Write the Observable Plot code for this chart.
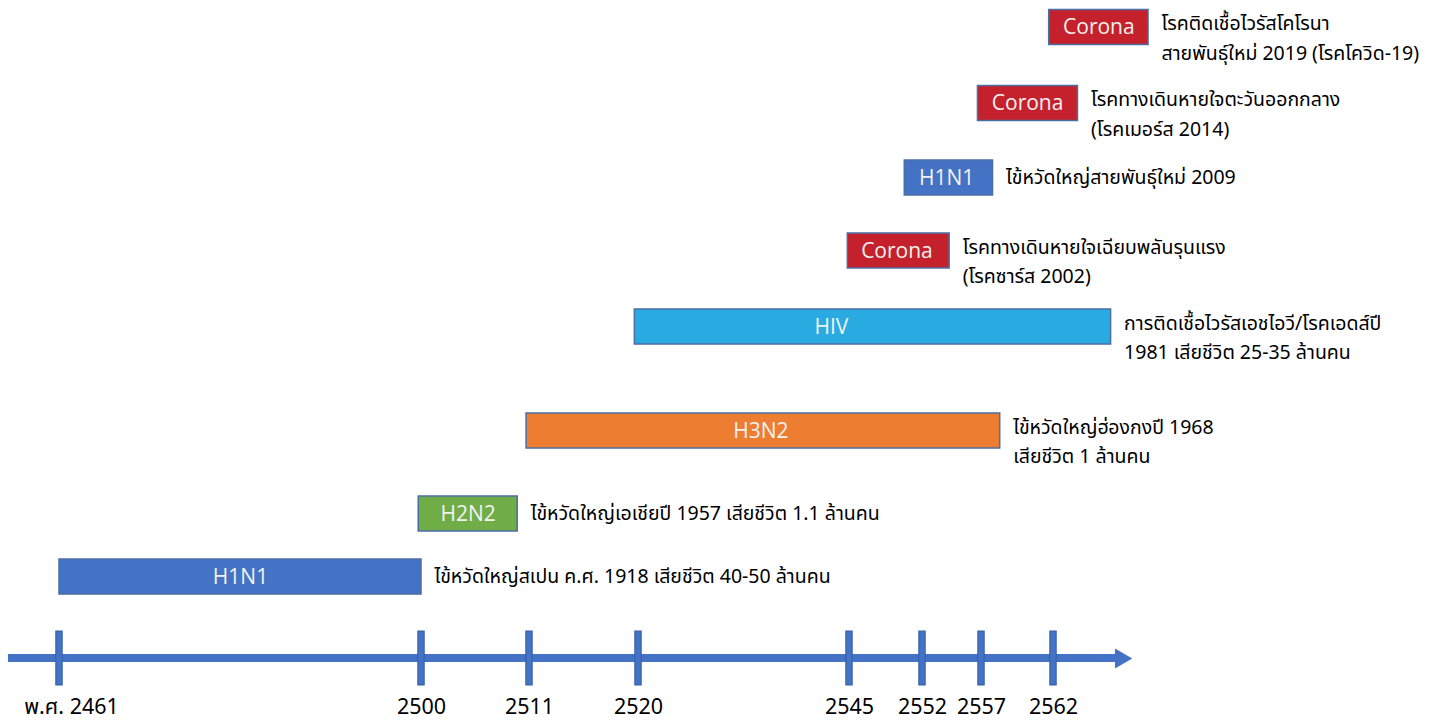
<!DOCTYPE html>
<html>
<head>
<meta charset="utf-8">
<script src="https://cdn.jsdelivr.net/npm/d3@7"></script>
<script src="https://cdn.jsdelivr.net/npm/@observablehq/plot@0.6"></script>
<style>
  html, body { margin: 0; padding: 0; background: #fff; }
  #chart svg { display: block; }
</style>
</head>
<body>
<div id="chart"></div>
<script>
// Bars, bottom to top
const labels = ["H1N1", "H2N2", "H3N2", "HIV", "Corona", "H1N1", "Corona", "Corona"];
const starts = [2461, 2499.7, 2510.7, 2519.7, 2544.8, 2550.3, 2556.7, 2561.7];
const ends   = [2500, 2509.8, 2558.3, 2566.0, 2554.3, 2557.8, 2563.7, 2568.6];
const rows   = [1, 2, 3, 4, 5, 6, 7, 8];
const colors = ["#4472C4", "#70AD47", "#ED7D31", "#29ABE2", "#C5212C", "#4472C4", "#C5212C", "#C5212C"];
const descriptions = [
  "ไข้หวัดใหญ่สเปน ค.ศ. 1918 เสียชีวิต 40-50 ล้านคน",
  "ไข้หวัดใหญ่เอเชียปี 1957 เสียชีวิต 1.1 ล้านคน",
  "ไข้หวัดใหญ่ฮ่องกงปี 1968\nเสียชีวิต 1 ล้านคน",
  "การติดเชื้อไวรัสเอชไอวี/โรคเอดส์ปี\n1981 เสียชีวิต 25-35 ล้านคน",
  "โรคทางเดินหายใจเฉียบพลันรุนแรง\n(โรคซาร์ส 2002)",
  "ไข้หวัดใหญ่สายพันธุ์ใหม่ 2009",
  "โรคทางเดินหายใจตะวันออกกลาง\n(โรคเมอร์ส 2014)",
  "โรคติดเชื้อไวรัสโคโรนา\nสายพันธุ์ใหม่ 2019 (โรคโควิด-19)"
];

// Timeline ticks
const tickYears  = [2461, 2500, 2511, 2520, 2545, 2552, 2557, 2562];
const tickLabels = ["พ.ศ. 2461", "2500", "2511", "2520", "2545", "2552", "2557", "2562"];
const axisStart = 2455.5;
const axisEnd = 2566.6;

const bars = labels.map((l, i) => ({
  label: l, start: starts[i], end: ends[i], row: rows[i], color: colors[i],
  desc: descriptions[i], multi: descriptions[i].includes("\n")
}));
const ticks = tickYears.map((y, i) => ({year: y, label: tickLabels[i], row: 0}));

const thaiFont = "'Noto Sans Thai', 'Noto Sans', Lato, sans-serif";
const barFont = "'Open Sans', 'Noto Sans', sans-serif";
const blue = "#4472C4";

const chart = Plot.plot({
  width: 1435,
  height: 724,
  margin: 0,
  style: {background: "#fff", overflow: "visible"},
  x: {type: "linear", domain: tickYears, range: [59, 421, 529, 638, 849, 922, 981, 1053], axis: null},
  y: {type: "linear", domain: [0, 1, 2, 3, 4, 5, 6, 7, 8], range: [658, 576.5, 513.5, 430.5, 326.5, 250.5, 177.5, 103, 27], axis: null},
  marks: [
    // main axis line
    Plot.rect([{a: axisStart, b: axisEnd, row: 0}], {
      x1: "a", x2: "b", y1: "row", y2: "row",
      fill: blue, insetTop: -4, insetBottom: -4
    }),
    // arrow head
    Plot.dot([{x: axisEnd, row: 0}], {
      x: "x", y: "row", symbol: "triangle", r: 7.4, rotate: 90, fill: blue, dx: 1
    }),
    // tick marks
    Plot.rect(ticks, {
      x1: "year", x2: "year", y1: "row", y2: "row",
      fill: blue, stroke: "#3560A8", strokeWidth: 1,
      insetLeft: -3.2, insetRight: -3.2, insetTop: -27, insetBottom: -27
    }),
    // tick labels
    Plot.text(ticks.filter(d => d.year !== 2461), {
      x: "year", y: "row", text: "label", dy: 49,
      fontSize: 21.5, fill: "#000", fontFamily: thaiFont
    }),
    Plot.text(ticks.filter(d => d.year === 2461), {
      x: "year", y: "row", text: "label", dy: 49, dx: 12,
      fontSize: 21.5, fill: "#000", fontFamily: thaiFont
    }),
    // bars
    Plot.rect(bars, {
      x1: "start", x2: "end", y1: "row", y2: "row",
      fill: "color", stroke: "#4A6FA5", strokeWidth: 1.5,
      insetTop: -17.5, insetBottom: -17.5
    }),
    // bar labels
    Plot.text(bars, {
      x: d => (d.start + d.end) / 2, y: "row", text: "label",
      fill: "#F2F2F2", fontSize: 21, fontFamily: barFont
    }),
    // descriptions (single-line)
    Plot.text(bars.filter(d => !d.multi), {
      x: "end", y: "row", text: "desc", textAnchor: "start", dx: 13,
      fontSize: 19.5, fill: "#000", fontFamily: thaiFont, lineAnchor: "middle"
    }),
    // descriptions (two-line)
    Plot.text(bars.filter(d => d.multi), {
      x: "end", y: "row", text: "desc", textAnchor: "start", dx: 13, dy: -18,
      fontSize: 19.5, fill: "#000", fontFamily: thaiFont, lineAnchor: "top", lineHeight: 1.5
    })
  ]
});
document.getElementById("chart").appendChild(chart);
</script>
</body>
</html>
